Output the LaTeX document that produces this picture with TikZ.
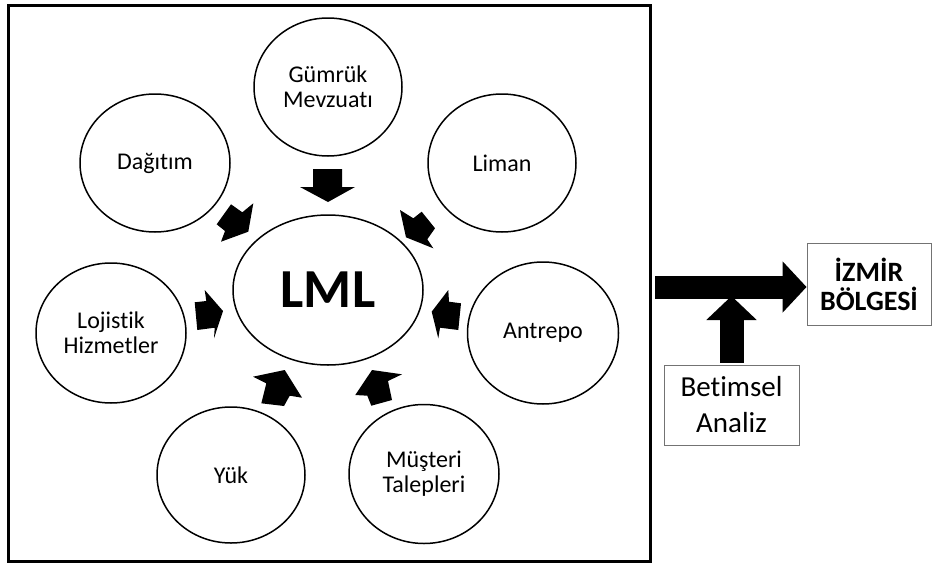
\documentclass[tikz,border=0pt]{standalone}
\usepackage{fontspec}
\setmainfont{Carlito}[Ligatures=NoCommon]
\usetikzlibrary{shapes.geometric,arrows.meta}
\begin{document}
\begin{tikzpicture}[x=1pt,y=-1pt,
  bubble/.style={ellipse,draw,line width=1.5pt,inner sep=0pt,align=center,
    font=\fontsize{24}{25}\selectfont},
  blk/.style={fill=black},
  tagbox/.style={draw=black!55,line width=0.9pt,inner sep=0pt,align=center},
  hbig/.style={line width=23pt,-{Triangle[length=24pt,width=50pt]}},
  vbig/.style={line width=24pt,-{Triangle[length=24pt,width=49pt]}}
]
\useasboundingbox (0,0) rectangle (932,565);

% main frame
\node[draw,line width=3pt,minimum width=642pt,minimum height=556pt,inner sep=0pt] (frame) at (329,283) {};

% bubbles
\node[bubble,minimum width=148pt,minimum height=138pt] (gumruk) at (328,87) {Gümrük\\Mevzuatı};
\node[bubble,minimum width=150pt,minimum height=138pt] (dagitim) at (155,163) {Dağıtım};
\node[bubble,minimum width=148pt,minimum height=138pt] (liman) at (502,163) {Liman};
\node[bubble,minimum width=190pt,minimum height=150pt,font=\fontsize{55}{56}\selectfont\bfseries] (lml) at (328,290) {LML};
\node[bubble,minimum width=150pt,minimum height=140pt] (lojistik) at (111,333) {Lojistik\\Hizmetler};
\node[bubble,minimum width=151pt,minimum height=142pt] (antrepo) at (543,333) {Antrepo};
\node[bubble,minimum width=148pt,minimum height=136pt] (yuk) at (231,475) {Yük};
\node[bubble,minimum width=150pt,minimum height=139pt] (musteri) at (424,474) {Müşteri\\Talepleri};

% block arrows towards LML
\fill[blk] (313,169) -- (342,169) -- (342,187) -- (355,187) -- (328,202) -- (300,187) -- (313,187) -- cycle; % Gumruk
\fill[blk] (231,204.3) -- (242.3,212.3) -- (253.3,203.3) -- (248.3,231.7) -- (221,241.7) -- (225,231) -- (216.7,224.3) -- cycle; % Dagitim
\fill[blk] (400,210) -- (413.3,218.3) -- (421.7,211.7) -- (435,228.3) -- (427.3,239.3) -- (433.3,248.3) -- (406,237.3) -- cycle; % Liman
\fill[blk] (194.7,302.3) -- (206.3,301) -- (204.7,290) -- (223,311) -- (214,338.3) -- (214.7,327.7) -- (197.3,330) -- cycle; % Lojistik
\fill[blk] (448.3,290) -- (449,301.7) -- (461,303.3) -- (458.3,330) -- (440,327.7) -- (438.3,338.3) -- (431.7,311.7) -- cycle; % Antrepo
\fill[blk] (253,376.7) -- (284.7,370) -- (302,397.7) -- (289.7,395.7) -- (284,406) -- (261.3,403.3) -- (266.3,383.3) -- cycle; % Yuk
\fill[blk] (355.3,395) -- (372,370) -- (402,374.3) -- (388,381) -- (392,400) -- (371.3,405.7) -- (367.3,395.7) -- cycle; % Musteri

% right side
\node[tagbox,minimum width=124pt,minimum height=82pt,font=\fontsize{28}{29}\selectfont\bfseries] (izmir) at (869,284) {İZMİR\\BÖLGESİ};
\node[tagbox,minimum width=135pt,minimum height=80pt,font=\fontsize{29}{36}\selectfont] (betimsel) at (731.5,405) {Betimsel\\Analiz};

\coordinate (hstart) at (655,287);
\draw[hbig] (hstart) -- (hstart -| izmir.west);
\draw[vbig] ([yshift=2pt]betimsel.north) -- ([yshift=2pt]betimsel.north |- 0,298);
\end{tikzpicture}
\end{document}
